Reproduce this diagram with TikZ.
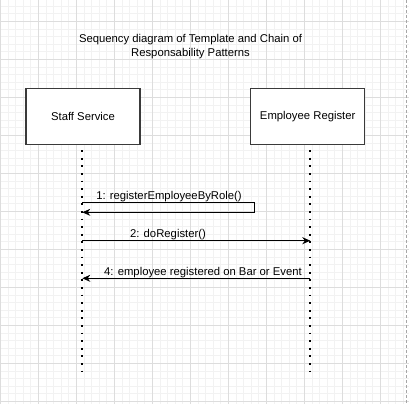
\documentclass[tikz,border=0pt]{standalone}
\usepackage{fontspec}
\setmainfont{Liberation Sans}
\usepackage{tikz}
\usetikzlibrary{arrows.meta,positioning}

\definecolor{minorline}{HTML}{F2F2F2}
\definecolor{majorline}{HTML}{DDDDDD}
\definecolor{boxline}{HTML}{3A3A3A}

\tikzset{
  actor/.style={draw=boxline,line width=1.2pt,fill=white,minimum width=114pt,
    minimum height=56pt,font=\fontsize{11.3}{13}\selectfont},
  lifeline/.style={line width=1.8pt,dash pattern=on 1.8pt off 5.8pt},
  msg/.style={line width=0.9pt,-{Stealth[length=8pt,width=7pt]}},
  msglabel/.style={font=\fontsize{11.3}{13}\selectfont,inner sep=1pt}
}

\begin{document}
\begin{tikzpicture}[x=1pt,y=-1pt]
\useasboundingbox (0,0) rectangle (409,404);
\begin{scope}
\clip (0,0) rectangle (409,404);
% background grid
\foreach \i in {0,...,54}{
  \draw[minorline,line width=0.6pt] (0.3+7.6*\i,0) -- (0.3+7.6*\i,404);
  \draw[minorline,line width=0.6pt] (0,-1.5+7.6*\i) -- (409,-1.5+7.6*\i);
}
\foreach \i in {0,...,10}{
  \draw[majorline,line width=0.7pt] (0.3+38*\i,0) -- (0.3+38*\i,404);
  \draw[majorline,line width=0.7pt] (0,21.3+38*\i) -- (409,21.3+38*\i);
}
\draw[gray!70,line width=0.7pt,dash pattern=on 3pt off 2pt] (406.7,0) -- (406.7,404);
\end{scope}

% title
\node[align=center,font=\fontsize{11.3}{14.4}\selectfont] (title) at (190.5,46.5)
  {Sequency diagram of Template and Chain of\\Responsability Patterns};

% participants
\node[actor] (staff) at (83,116.3) {Staff Service};
\node[actor] (register) at (307.7,116.5) {Employee Register};

% lifelines
\coordinate (staffTop) at (82.3,150.2);
\coordinate (staffEnd) at (82.3,373);
\coordinate (registerTop) at (310.3,150.2);
\coordinate (registerEnd) at (310.3,373);
\draw[lifeline] (staffTop) -- (staffEnd);
\draw[lifeline] (registerTop) -- (registerEnd);

% messages
\coordinate (call1from) at (staffTop |- 0,202.7);
\coordinate (call1turn) at (254.3,212.3);
\coordinate (call1to) at (staffTop |- 0,212.3);
\draw[msg] (call1from) -| (call1turn) -- (call1to);
\node[msglabel] (lbl1) at (169,196.7) {1: registerEmployeeByRole()};

\coordinate (call2from) at (staffTop |- 0,240.7);
\coordinate (call2to) at (registerTop |- 0,240.7);
\draw[msg] (call2from) -- (call2to);
\node[msglabel] (lbl2) at (168,234.2) {2: doRegister()};

\coordinate (call4from) at (registerTop |- 0,278.3);
\coordinate (call4to) at (staffTop |- 0,278.3);
\draw[msg] (call4from) -- (call4to);
\node[msglabel] (lbl4) at (203,272.5) {4: employee registered on Bar or Event};
\end{tikzpicture}
\end{document}
